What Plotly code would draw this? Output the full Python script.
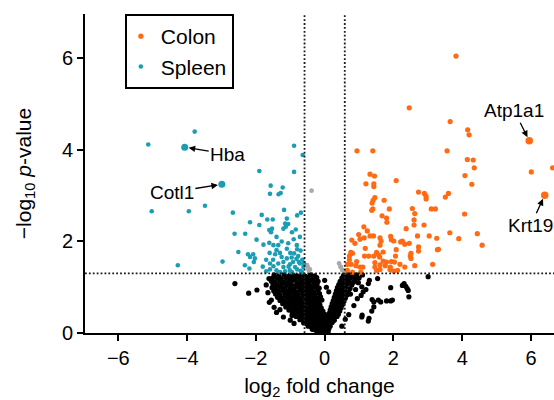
import plotly.graph_objects as go

# ---------------- data (log2 fold change, -log10 p-value) ----------------
colon_fc = [2.46, 3.65, 0.94, 1.40, 3.56, 1.32, 1.45, 1.20, 1.43, 1.43, 2.08, 2.73, 2.90, 2.95, 2.95,
            3.60, 3.51, 1.46, 1.41, 1.38, 1.73, 1.40, 1.37, 1.88, 2.55, 3.10, 3.22, 2.62, 1.67, 1.80,
            1.81, 2.60, 2.60, 2.89, 2.37, 1.14, 1.24, 3.64, 3.90, 0.99, 1.15, 1.32, 1.42, 2.70, 3.04,
            3.26, 0.79, 1.03, 1.61, 1.64, 1.92, 1.94, 0.88, 2.21, 2.26, 2.33, 2.46, 2.01, 1.61, 2.73,
            2.73, 3.31, 1.18, 2.08, 0.76, 0.81, 1.51, 1.70, 1.57, 2.51, 0.72, 1.16, 1.28, 1.43, 1.60,
            2.06, 2.49, 0.72, 0.93, 1.46, 1.70, 1.80, 1.94, 2.03, 2.51, 0.66, 0.77, 0.91, 1.03, 1.11,
            1.46, 1.61, 1.76, 1.91, 2.19, 2.33, 2.62, 3.14, 0.66, 0.81, 1.05, 1.51, 1.61, 1.90, 2.01,
            2.12, 3.82, 4.16, 4.20, 4.15, 4.32, 4.35, 4.08, 4.28, 6.01, 6.63, 4.07, 4.44, 4.58, 3.28]
colon_p = [4.92, 4.62, 3.98, 3.98, 3.98, 3.47, 3.43, 3.26, 3.26, 3.20, 3.33, 3.08, 3.05, 2.99, 2.93,
           3.05, 2.97, 2.96, 2.90, 2.84, 2.90, 2.71, 2.68, 2.71, 2.72, 2.71, 2.71, 2.61, 2.56, 2.51,
           2.42, 2.47, 2.36, 2.36, 2.28, 2.32, 2.23, 2.19, 2.06, 2.15, 2.08, 2.12, 2.12, 2.12, 2.12,
           2.07, 2.03, 2.05, 2.08, 2.01, 2.11, 2.04, 1.96, 1.99, 2.01, 1.94, 1.96, 2.01, 1.92, 1.88,
           1.79, 1.83, 1.85, 1.82, 1.76, 1.74, 1.76, 1.77, 1.71, 1.74, 1.68, 1.68, 1.68, 1.68, 1.66,
           1.68, 1.68, 1.60, 1.56, 1.54, 1.57, 1.55, 1.56, 1.55, 1.63, 1.50, 1.50, 1.47, 1.44, 1.44,
           1.44, 1.49, 1.47, 1.44, 1.50, 1.44, 1.47, 1.50, 1.37, 1.33, 1.33, 1.37, 1.39, 1.39, 1.35,
           1.37, 6.05, 4.44, 4.33, 3.79, 3.78, 3.61, 3.44, 3.25, 3.52, 3.61, 2.60, 2.17, 1.92, 1.82]

spleen_fc = [-5.13, -3.78, -5.03, -3.95, -3.48, -4.27, -2.97, -0.89, -0.64, -1.90, -0.89, -1.57, -1.22,
             -1.28, -1.59, -1.34, -2.67, -1.18, -0.69, -0.80, -1.83, -1.10, -1.67, -1.51, -2.17, -1.90,
             -1.15, -1.06, -1.53, -1.61, -1.20, -1.13, -0.84, -2.62, -2.31, -1.56, -1.98, -1.78, -1.61,
             -1.49, -1.35, -1.06, -0.81, -1.40, -1.10, -0.80, -2.51, -2.08, -2.17, -2.03, -1.44, -1.25,
             -1.10, -0.96, -0.77, -2.32, -2.19, -1.59, -1.49, -1.35, -1.20, -1.01, -0.86, -0.72, -1.59,
             -1.40, -1.01, -0.80, -0.62, -2.23, -2.06, -0.60, -0.89, -0.75, -0.95, -1.15, -1.30, -0.70,
             -0.65, -0.92, -1.20, -1.00, -1.30, -0.70, -0.90, -1.25, -0.72, -1.70, -1.80, -1.70, -0.82,
             -1.05, -0.66, -1.50, -1.60, -0.95, -1.40]
spleen_p = [4.12, 4.40, 2.66, 2.66, 2.78, 1.48, 1.56, 4.09, 3.89, 3.54, 3.52, 3.22, 3.18,
            3.06, 3.04, 3.03, 2.63, 2.69, 2.63, 2.57, 2.58, 2.50, 2.48, 2.48, 2.42, 2.36,
            2.39, 2.38, 2.28, 2.25, 2.28, 2.32, 2.26, 2.17, 2.17, 2.20, 2.04, 1.93, 1.97,
            1.92, 1.92, 1.96, 1.92, 1.81, 1.84, 1.83, 1.77, 1.72, 1.66, 1.63, 1.72, 1.66,
            1.63, 1.65, 1.68, 1.48, 1.41, 1.52, 1.46, 1.52, 1.44, 1.50, 1.44, 1.52, 1.39,
            1.37, 1.37, 1.39, 1.44, 1.72, 1.55, 1.52, 1.74, 1.55, 1.33, 1.35, 1.33, 1.36,
            1.60, 1.55, 1.55, 1.75, 1.75, 1.80, 2.05, 2.00, 2.10, 1.60, 1.45, 1.35, 1.62,
            1.45, 1.33, 1.60, 1.75, 2.20, 2.10]

grey_fc = [-0.38, 0.42, 0.47, 0.52, 0.59, -0.51, -0.46, -0.48, -0.43, 0.46, 0.51]
grey_p = [3.11, 1.52, 1.44, 1.37, 1.33, 1.48, 1.37, 1.42, 1.39, 1.45, 1.38]

# non-significant genes (read row by row off the dense "V")
ns_points = [
    (-1.47, 1.27), (-1.33, 1.25), (-1.18, 1.28), (-1.05, 1.24), (-0.93, 1.27), (-0.80, 1.25), (-0.66, 1.28),
    (-0.55, 1.24), (-0.41, 1.27), (-0.29, 1.25), (0.55, 1.26), (0.68, 1.28), (0.82, 1.25), (0.93, 1.27),
    (-1.52, 1.20), (-1.40, 1.21), (-1.26, 1.19), (-1.12, 1.21), (-0.99, 1.20), (-0.86, 1.18), (-0.74, 1.21),
    (-0.61, 1.19), (-0.48, 1.20), (-0.35, 1.18), (-0.23, 1.21), (0.50, 1.20), (0.63, 1.19), (0.76, 1.21), (0.88, 1.18),
    (-1.55, 1.13), (-1.45, 1.12), (-1.31, 1.14), (-1.17, 1.12), (-1.04, 1.13), (-0.91, 1.15), (-0.79, 1.12),
    (-0.67, 1.13), (-0.53, 1.11), (-0.42, 1.14), (-0.30, 1.12), (-0.19, 1.13), (0.45, 1.13), (0.58, 1.12),
    (0.71, 1.14), (0.84, 1.11),
    (-1.50, 1.06), (-1.37, 1.05), (-1.23, 1.07), (-1.10, 1.05), (-0.97, 1.06), (-0.84, 1.04), (-0.72, 1.07),
    (-0.59, 1.05), (-0.46, 1.06), (-0.34, 1.04), (-0.22, 1.07), (0.41, 1.06), (0.53, 1.05), (0.66, 1.07), (0.79, 1.05),
    (-1.53, 0.99), (-1.41, 0.98), (-1.28, 1.00), (-1.15, 0.98), (-1.01, 0.99), (-0.89, 0.97), (-0.76, 1.00),
    (-0.63, 0.98), (-0.51, 0.99), (-0.39, 0.97), (-0.27, 1.00), (-0.16, 0.98), (0.37, 0.99), (0.49, 0.98),
    (0.61, 1.00), (0.74, 0.97),
    (-1.48, 0.92), (-1.34, 0.91), (-1.21, 0.93), (-1.08, 0.91), (-0.95, 0.92), (-0.82, 0.90), (-0.70, 0.93),
    (-0.57, 0.91), (-0.44, 0.92), (-0.32, 0.90), (-0.20, 0.93), (0.34, 0.92), (0.45, 0.91), (0.57, 0.93), (0.69, 0.90),
    (-1.43, 0.85), (-1.30, 0.84), (-1.16, 0.86), (-1.03, 0.84), (-0.90, 0.85), (-0.77, 0.83), (-0.64, 0.86),
    (-0.52, 0.84), (-0.40, 0.85), (-0.28, 0.83), (-0.15, 0.86), (0.31, 0.85), (0.42, 0.84), (0.53, 0.86), (0.65, 0.83),
    (-1.37, 0.78), (-1.24, 0.77), (-1.11, 0.79), (-0.98, 0.77), (-0.85, 0.78), (-0.72, 0.76), (-0.60, 0.79),
    (-0.47, 0.77), (-0.35, 0.78), (-0.23, 0.76), (-0.12, 0.79), (0.28, 0.78), (0.38, 0.77), (0.49, 0.79), (0.60, 0.76),
    (-1.30, 0.71), (-1.17, 0.70), (-1.04, 0.72), (-0.91, 0.70), (-0.78, 0.71), (-0.66, 0.69), (-0.54, 0.72),
    (-0.42, 0.70), (-0.30, 0.71), (-0.18, 0.69), (-0.08, 0.72), (0.25, 0.71), (0.35, 0.70), (0.45, 0.72), (0.56, 0.69),
    (-1.22, 0.64), (-1.09, 0.63), (-0.97, 0.65), (-0.85, 0.63), (-0.73, 0.64), (-0.61, 0.62), (-0.49, 0.65),
    (-0.37, 0.63), (-0.26, 0.64), (-0.14, 0.62), (0.22, 0.64), (0.32, 0.63), (0.42, 0.65), (0.52, 0.62),
    (-1.13, 0.57), (-1.01, 0.56), (-0.89, 0.58), (-0.77, 0.56), (-0.65, 0.57), (-0.54, 0.55), (-0.43, 0.58),
    (-0.32, 0.56), (-0.21, 0.57), (-0.10, 0.55), (0.19, 0.57), (0.29, 0.56), (0.39, 0.58), (0.48, 0.55),
    (-1.04, 0.50), (-0.92, 0.49), (-0.80, 0.51), (-0.69, 0.49), (-0.58, 0.50), (-0.47, 0.48), (-0.36, 0.51),
    (-0.26, 0.49), (-0.15, 0.50), (-0.05, 0.48), (0.16, 0.50), (0.26, 0.49), (0.35, 0.51), (0.44, 0.48),
    (-0.94, 0.43), (-0.83, 0.42), (-0.72, 0.44), (-0.61, 0.42), (-0.50, 0.43), (-0.40, 0.41), (-0.30, 0.44),
    (-0.20, 0.42), (-0.10, 0.43), (0.00, 0.41), (0.13, 0.43), (0.22, 0.42), (0.31, 0.44), (0.40, 0.41),
    (-0.83, 0.36), (-0.72, 0.35), (-0.62, 0.37), (-0.52, 0.35), (-0.42, 0.36), (-0.32, 0.34), (-0.22, 0.37),
    (-0.13, 0.35), (-0.04, 0.36), (0.09, 0.34), (0.18, 0.37), (0.27, 0.35), (0.36, 0.36),
    (-0.72, 0.29), (-0.62, 0.28), (-0.52, 0.30), (-0.43, 0.28), (-0.34, 0.29), (-0.25, 0.27), (-0.16, 0.30),
    (-0.07, 0.28), (0.02, 0.29), (0.10, 0.27), (0.19, 0.30), (0.28, 0.28),
    (-0.61, 0.22), (-0.52, 0.21), (-0.43, 0.23), (-0.34, 0.21), (-0.26, 0.22), (-0.18, 0.20), (-0.10, 0.23),
    (-0.02, 0.21), (0.06, 0.22), (0.14, 0.20), (0.22, 0.23),
    (-0.48, 0.15), (-0.40, 0.14), (-0.32, 0.16), (-0.24, 0.14), (-0.16, 0.15), (-0.08, 0.13), (0.00, 0.16),
    (0.08, 0.14), (0.16, 0.15),
    (-0.36, 0.08), (-0.28, 0.07), (-0.20, 0.09), (-0.12, 0.07), (-0.04, 0.08), (0.04, 0.06), (0.12, 0.09),
    (-0.22, 0.02), (-0.14, 0.03), (-0.06, 0.01), (0.02, 0.03), (0.10, 0.02),
    # scattered
    (-2.61, 1.08), (-2.21, 0.87), (-1.97, 0.94), (-1.61, 0.67), (-1.47, 0.56), (-1.30, 0.51), (-0.89, 0.21),
    (-1.62, 1.19), (-1.70, 1.05), (-1.65, 0.88), (-1.55, 0.72), (-1.40, 0.45), (-1.20, 0.35), (-1.00, 0.28),
    (-0.95, 0.38), (1.54, 1.19), (1.30, 1.15), (1.27, 1.08), (1.08, 1.01), (1.12, 0.90), (1.06, 0.82),
    (1.38, 0.73), (1.43, 0.68), (1.56, 0.72), (1.80, 0.70), (1.92, 0.70), (2.31, 1.08), (2.36, 1.02),
    (2.40, 0.97), (2.43, 0.93), (1.08, 0.35), (1.27, 0.26), (1.37, 0.48), (3.01, 1.23), (1.92, 0.99),
    (2.26, 1.04), (2.45, 0.79), (1.97, 0.72), (1.63, 0.68), (1.43, 0.57), (1.29, 0.32), (1.09, 0.39),
    (1.00, 1.20), (1.10, 1.27), (0.98, 1.10), (0.90, 0.95), (0.85, 0.60), (0.70, 0.40), (0.60, 0.30),
    (0.50, 0.15), (0.75, 0.85), (0.95, 0.75), (1.20, 0.95), (0.05, 1.00), (0.12, 0.90), (0.00, 1.15),
]
ns_fc = [p[0] for p in ns_points]
ns_p = [p[1] for p in ns_points]

label_colon = ["Atp1a1", "Krt19"]
label_colon_fc = [5.95, 6.40]
label_colon_p = [4.20, 3.01]
label_spleen = ["Hba", "Cotl1"]
label_spleen_fc = [-4.07, -2.99]
label_spleen_p = [4.06, 3.25]

fc_cut = 0.585
p_cut = 1.301

ORANGE = "#ff6a12"
TEAL = "#1b9db3"
FONT = "Liberation Sans, Arial, sans-serif"

fig = go.Figure()
fig.add_trace(go.Scatter(x=ns_fc, y=ns_p, mode="markers", showlegend=False,
                         marker=dict(color="black", size=5.2, line=dict(width=0))))
fig.add_trace(go.Scatter(x=grey_fc, y=grey_p, mode="markers", showlegend=False,
                         marker=dict(color="#aaaaaa", size=4.8, line=dict(width=0))))
fig.add_trace(go.Scatter(x=spleen_fc, y=spleen_p, mode="markers", name="Spleen", legendrank=2,
                         marker=dict(color=TEAL, size=4.6, line=dict(width=0))))
fig.add_trace(go.Scatter(x=colon_fc, y=colon_p, mode="markers", name="Colon", legendrank=1,
                         marker=dict(color=ORANGE, size=5.2, line=dict(width=0))))
fig.add_trace(go.Scatter(x=label_spleen_fc, y=label_spleen_p, mode="markers", showlegend=False,
                         marker=dict(color=TEAL, size=7, line=dict(width=0))))
fig.add_trace(go.Scatter(x=label_colon_fc, y=label_colon_p, mode="markers", showlegend=False,
                         marker=dict(color=ORANGE, size=7.5, line=dict(width=0))))

dot = dict(color="#1a1a1a", width=1.8, dash="1.8px,2.1px")
fig.add_shape(type="line", xref="x", yref="paper", x0=-fc_cut, x1=-fc_cut, y0=0, y1=1, line=dot)
fig.add_shape(type="line", xref="x", yref="paper", x0=fc_cut, x1=fc_cut, y0=0, y1=1, line=dot)
fig.add_shape(type="line", xref="paper", yref="y", x0=0, x1=1, y0=p_cut, y1=p_cut, line=dot)

offsets = {"Hba": (43, 7), "Cotl1": (-50, 8), "Atp1a1": (-15, -30), "Krt19": (-14, 30)}
for names, xs, ys in [(label_spleen, label_spleen_fc, label_spleen_p),
                      (label_colon, label_colon_fc, label_colon_p)]:
    for n, xv, yv in zip(names, xs, ys):
        ax, ay = offsets[n]
        fig.add_annotation(x=xv, y=yv, text=n, ax=ax, ay=ay, showarrow=True,
                           arrowhead=2, arrowsize=1, arrowwidth=1.3, arrowcolor="black",
                           standoff=4, font=dict(size=19, color="black", family=FONT))

fig.update_layout(
    width=554, height=400,
    margin=dict(l=85, r=0, t=14, b=67),
    paper_bgcolor="white", plot_bgcolor="white",
    font=dict(family=FONT, color="black", size=20),
    legend=dict(x=0.085, y=1, xanchor="left", yanchor="top", bgcolor="white",
                bordercolor="black", borderwidth=2, font=dict(size=21), itemsizing="trace",
                tracegroupgap=0, indentation=-6),
)
fig.update_xaxes(range=[-6.97, 6.67], tickvals=[-6, -4, -2, 0, 2, 4, 6], showgrid=False, zeroline=False,
                 showline=True, linecolor="black", linewidth=2, ticks="outside", ticklen=6,
                 tickwidth=2, tickcolor="black", tickfont=dict(size=20),
                 title=dict(text="log<sub>2</sub> fold change", font=dict(size=21), standoff=14))
fig.update_yaxes(range=[0, 6.97], tickvals=[0, 2, 4, 6], showgrid=False, zeroline=False,
                 showline=True, linecolor="black", linewidth=2, ticks="outside", ticklen=6,
                 tickwidth=2, tickcolor="black", tickfont=dict(size=20),
                 title=dict(text="\u2212log<sub>10</sub> <i>p</i>-value", font=dict(size=21), standoff=25))

fig.write_html("out.html")
